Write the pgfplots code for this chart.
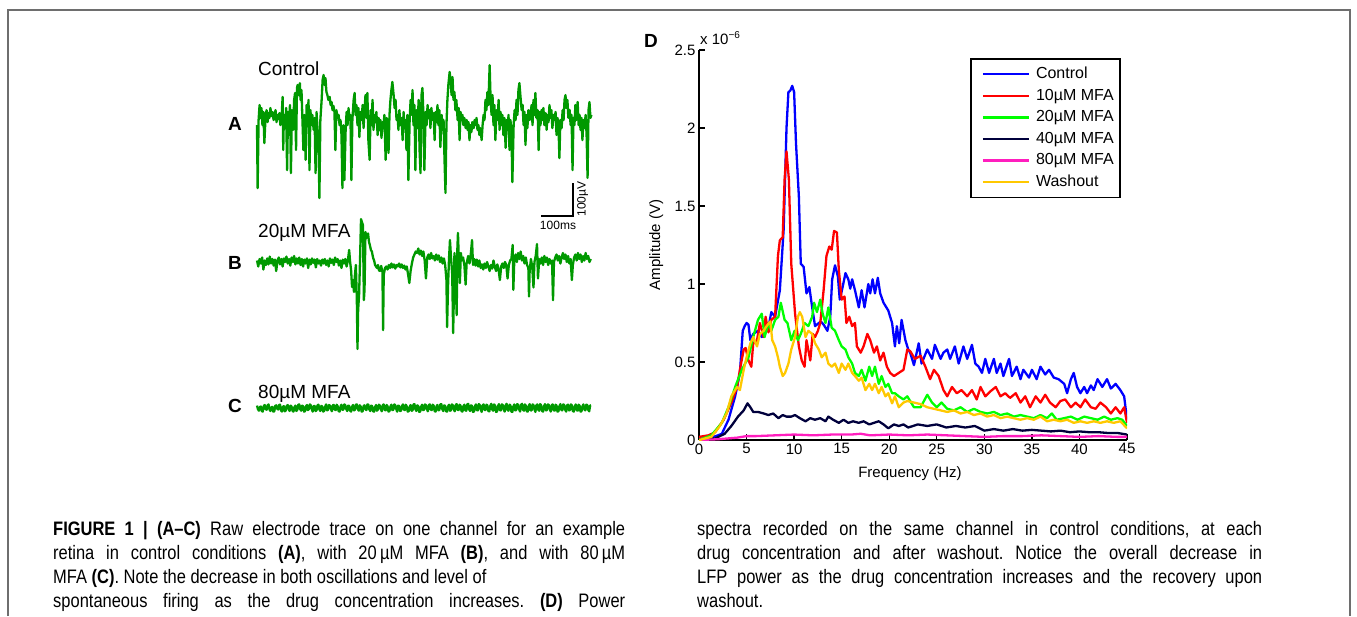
\documentclass[border=0pt]{standalone}
\usepackage{pgfplots}
\pgfplotsset{compat=1.18}
\usepackage{fontspec}
\setmainfont{Liberation Sans}
\newfontfamily\capfont[FakeStretch=0.845]{Liberation Sans}

\definecolor{tracegreen}{RGB}{0,153,0}
\definecolor{cBlue}{RGB}{0,0,255}
\definecolor{cRed}{RGB}{255,0,0}
\definecolor{cGreen}{RGB}{0,255,0}
\definecolor{cNavy}{RGB}{0,0,60}
\definecolor{cPink}{RGB}{255,30,190}
\definecolor{cYellow}{RGB}{255,200,0}
\definecolor{framegray}{RGB}{110,110,110}

\pgfplotsset{
  trace/.style={hide axis, x=0.32pt, y=0.3pt, xmin=0, xmax=1047,
    clip=false, anchor=south west},
  tr/.style={tracegreen, line width=2.3pt, line join=round, no marks},
}

\begin{document}
\begin{tikzpicture}
\path[use as bounding box] (0pt,0pt) rectangle (1357pt,-616pt);
\draw[framegray, line width=2pt] (8pt,-616pt) -- (8pt,-10pt) -- (1350pt,-10pt) -- (1350pt,-616pt);

% ---------- A: control ----------
\begin{axis}[trace, ymin=-260, ymax=190, at={(257pt,-198pt)}]
\addplot[tr] coordinates {
(0,-17)(2,-227)(5,0)(8,50)(11,7)(14,40)(17,-17)(20,27)(23,-77)(27,17)(30,33)(33,-7)(36,23)(39,7)(42,40)(45,13)(48,27)(52,0)(55,20)(58,33)(61,-7)(64,17)(67,3)(70,23)(73,-17)(77,10)(80,77)(82,-100)(84,17)(88,-27)(91,40)(94,-167)(97,27)(100,-17)(103,50)(106,-177)(109,33)(113,-33)(116,67)(119,90)(122,-100)(125,107)(127,117)(131,83)(134,123)(136,67)(139,100)(142,0)(145,-100)(148,17)(152,-133)(155,50)(158,0)(161,67)(164,-167)(167,33)(170,-17)(173,17)(177,-33)(180,7)(183,-177)(186,27)(189,-27)(192,-67)(195,-260)(198,0)(202,67)(205,133)(208,150)(211,117)(214,140)(217,93)(220,83)(223,67)(227,77)(230,50)(233,60)(236,33)(239,47)(242,27)(245,-100)(248,33)(252,7)(255,17)(258,-17)(261,0)(264,-50)(267,-227)(270,-17)(273,-200)(277,-33)(280,27)(283,-17)(286,40)(289,0)(292,17)(295,-200)(298,0)(302,67)(305,90)(308,17)(311,50)(314,-17)(317,40)(320,-57)(323,27)(327,0)(330,50)(333,-27)(336,33)(339,83)(342,7)(345,90)(348,-67)(352,-133)(355,33)(358,-17)(361,67)(364,-33)(367,17)(370,-7)(373,27)(377,-50)(380,7)(383,-33)(386,0)(389,-60)(392,-7)(395,-27)(398,17)(402,-133)(405,7)(408,-17)(411,-110)(414,17)(417,67)(420,100)(423,127)(427,83)(430,40)(433,67)(436,0)(439,17)(442,-33)(445,33)(448,-17)(452,7)(455,-67)(458,27)(461,-27)(464,0)(467,-100)(470,17)(473,-200)(477,0)(480,67)(483,17)(486,100)(489,-17)(492,50)(495,-167)(498,33)(502,-27)(505,67)(508,-100)(511,-177)(514,83)(517,107)(520,17)(523,-167)(527,27)(530,-17)(533,50)(536,7)(539,33)(542,-27)(545,40)(548,0)(552,23)(555,-67)(558,27)(561,-7)(564,50)(567,-17)(570,33)(573,-90)(577,17)(580,-33)(583,0)(586,-133)(589,-243)(592,-17)(595,67)(598,117)(602,160)(605,133)(608,83)(611,143)(614,67)(617,93)(620,33)(623,67)(627,0)(630,40)(633,-67)(636,27)(639,0)(642,17)(645,-17)(648,7)(652,-27)(655,0)(658,-33)(661,-7)(664,-67)(667,-17)(670,-40)(673,-7)(677,-27)(680,0)(683,-17)(686,7)(689,-33)(692,-17)(695,-50)(698,-27)(702,-67)(705,-17)(708,17)(711,0)(714,67)(717,33)(720,93)(723,50)(727,183)(730,67)(733,17)(736,83)(739,-17)(742,50)(745,-67)(748,33)(752,0)(755,67)(758,-33)(761,27)(764,-17)(767,17)(770,-50)(773,7)(777,-93)(780,0)(783,-33)(786,17)(789,-100)(792,0)(795,-33)(798,-207)(802,-17)(805,33)(808,0)(811,67)(814,17)(817,100)(820,123)(823,83)(827,33)(830,50)(833,-17)(836,27)(839,-83)(842,17)(845,-27)(848,33)(852,0)(855,17)(858,50)(861,-17)(864,67)(867,17)(870,90)(873,7)(877,33)(880,-100)(883,27)(886,-17)(889,33)(892,0)(895,40)(898,-17)(902,23)(905,-33)(908,17)(911,-7)(914,50)(917,7)(920,33)(923,-27)(927,17)(930,0)(933,27)(936,-50)(939,7)(942,-17)(945,-127)(948,0)(952,-27)(955,33)(958,0)(961,67)(964,83)(967,40)(970,67)(973,7)(977,33)(980,-17)(983,17)(986,-167)(989,7)(992,-17)(995,50)(998,0)(1002,60)(1005,-17)(1008,17)(1011,-33)(1014,7)(1017,-67)(1020,0)(1023,-27)(1027,17)(1030,-50)(1033,-193)(1036,33)(1039,60)(1042,7)(1045,17)};
\end{axis}

% ---------- B: 20 uM MFA ----------
\begin{axis}[trace, ymin=-300, ymax=150, at={(257pt,-352pt)}]
\addplot[tr] coordinates {
(0,5)(4,-15)(8,10)(12,-5)(16,15)(20,-25)(24,5)(28,-10)(32,12)(36,-8)(40,18)(44,-5)(48,10)(52,-12)(56,8)(60,-30)(64,5)(68,15)(72,-8)(76,10)(80,-15)(84,12)(88,0)(92,18)(96,-5)(100,10)(104,-12)(108,15)(112,0)(116,20)(120,-8)(124,12)(128,-5)(132,15)(136,-10)(140,10)(144,-15)(148,8)(152,-5)(156,12)(160,-20)(164,8)(168,-8)(172,12)(176,-3)(180,8)(184,-18)(188,10)(192,-5)(196,5)(200,-12)(204,8)(208,-5)(212,10)(216,-10)(220,5)(224,-15)(228,12)(232,-3)(236,8)(240,-10)(244,15)(248,0)(252,10)(256,-12)(260,5)(264,-20)(268,8)(272,-5)(276,10)(280,-15)(284,5)(288,40)(291,0)(294,-27)(297,-83)(300,-60)(303,-100)(306,-43)(309,-10)(312,-127)(314,-290)(316,-160)(319,-110)(322,7)(325,143)(328,133)(331,123)(334,-127)(336,-93)(339,100)(342,80)(344,90)(347,95)(350,67)(353,55)(356,40)(359,35)(363,13)(366,5)(369,-10)(372,-15)(375,-20)(378,-10)(381,-27)(384,-30)(388,-13)(392,-33)(394,-227)(396,-43)(400,-20)(404,-15)(408,-25)(412,-10)(416,-20)(420,-5)(424,-18)(428,-8)(432,-22)(436,-10)(440,-15)(444,-5)(448,-18)(452,-8)(456,-20)(460,-12)(464,-25)(468,-15)(472,-40)(476,-70)(480,-30)(484,-5)(488,15)(492,25)(496,35)(500,30)(504,45)(508,25)(512,38)(516,20)(520,35)(524,5)(528,-55)(532,15)(536,25)(540,10)(544,30)(548,12)(552,20)(556,5)(560,25)(564,8)(568,22)(572,0)(576,15)(580,-5)(584,12)(588,-10)(592,-60)(594,-217)(597,-80)(600,10)(603,73)(606,20)(610,-40)(613,-237)(615,-120)(617,30)(620,-20)(624,-177)(626,40)(628,97)(631,0)(634,-70)(637,30)(640,5)(644,15)(648,-10)(652,-75)(655,-5)(660,20)(664,-5)(668,25)(672,73)(675,-10)(679,10)(683,-12)(687,8)(691,-15)(695,5)(699,-20)(703,-8)(707,-25)(711,-5)(715,-20)(719,0)(723,-15)(727,-30)(731,-10)(735,-22)(739,5)(743,-15)(747,-30)(751,-8)(755,-25)(759,-60)(763,-15)(767,-5)(771,-20)(775,0)(779,-10)(783,-55)(787,-10)(791,5)(795,10)(799,57)(801,-93)(804,5)(808,25)(812,0)(816,30)(820,10)(824,35)(828,5)(832,20)(836,-5)(840,15)(844,-10)(848,-20)(850,-115)(852,-30)(856,10)(860,-15)(864,-85)(867,0)(871,20)(875,60)(878,-55)(882,10)(886,-5)(890,15)(894,-10)(898,20)(902,0)(906,15)(910,-10)(914,10)(918,-5)(922,5)(925,-127)(928,0)(932,15)(936,25)(940,5)(944,20)(948,-5)(952,15)(956,30)(960,10)(964,25)(968,0)(972,20)(976,-5)(980,10)(984,-60)(987,-10)(991,15)(995,25)(999,5)(1003,30)(1007,10)(1011,25)(1015,0)(1019,20)(1023,5)(1027,30)(1031,10)(1035,20)(1039,0)(1043,10)};
\end{axis}

% ---------- C: 80 uM MFA ----------
\begin{axis}[trace, ymin=-20, ymax=20, at={(257pt,-414pt)}]
\addplot[tr] coordinates {
(0,8)(3,-4)(6,-9)(9,3)(12,5)(15,-10)(18,-12)(21,6)(24,10)(27,-3)(30,-6)(33,9)(36,12)(39,-5)(42,-10)(45,2)(48,4)(51,-12)(54,-11)(57,7)(60,9)(63,-2)(66,-5)(69,10)(72,11)(75,-8)(78,-12)(81,4)(84,6)(87,-11)(90,-8)(93,7)(96,10)(99,-4)(102,-10)(105,8)(108,5)(111,-9)(114,-12)(117,3)(120,8)(123,-10)(126,-6)(129,11)(132,12)(135,-4)(138,-9)(141,8)(144,6)(147,-12)(150,-11)(153,5)(156,10)(159,-7)(162,-4)(165,12)(168,9)(171,-3)(174,-12)(177,6)(180,7)(183,-10)(186,-8)(189,9)(192,11)(195,-5)(198,-10)(201,7)(204,5)(207,-12)(210,-9)(213,4)(216,12)(219,-8)(222,-6)(225,10)(228,8)(231,-3)(234,-11)(237,9)(240,10)(243,-5)(246,-7)(249,11)(252,6)(255,-10)(258,-12)(261,5)(264,11)(267,-6)(270,-5)(273,12)(276,9)(279,-4)(282,-10)(285,8)(288,7)(291,-9)(294,-12)(297,4)(300,10)(303,-8)(306,-6)(309,11)(312,12)(315,-3)(318,-9)(321,9)(324,5)(327,-12)(330,-11)(333,6)(336,9)(339,-4)(342,-7)(345,12)(348,11)(351,-5)(354,-10)(357,8)(360,6)(363,-11)(366,-12)(369,3)(372,10)(375,-9)(378,-5)(381,11)(384,8)(387,-4)(390,-11)(393,9)(396,12)(399,-6)(402,-8)(405,10)(408,6)(411,-12)(414,-10)(417,5)(420,11)(423,-7)(426,-6)(429,12)(432,9)(435,-3)(438,-12)(441,8)(444,7)(447,-10)(450,-9)(453,6)(456,12)(459,-5)(462,-7)(465,11)(468,5)(471,-12)(474,-11)(477,4)(480,10)(483,-9)(486,-8)(489,12)(492,13)(495,-4)(498,-10)(501,9)(504,6)(507,-13)(510,-12)(513,5)(516,11)(519,-7)(522,-6)(525,12)(528,9)(531,-4)(534,-11)(537,10)(540,12)(543,-5)(546,-7)(549,11)(552,8)(555,-10)(558,-12)(561,6)(564,10)(567,-8)(570,-6)(573,12)(576,13)(579,-4)(582,-10)(585,9)(588,7)(591,-11)(594,-12)(597,5)(600,11)(603,-9)(606,-8)(609,12)(612,9)(615,-5)(618,-11)(621,10)(624,13)(627,-6)(630,-7)(633,11)(636,8)(639,-10)(642,-12)(645,6)(648,11)(651,-8)(654,-9)(657,12)(660,14)(663,-5)(666,-10)(669,9)(672,7)(675,-13)(678,-12)(681,5)(684,12)(687,-7)(690,-8)(693,13)(696,10)(699,-4)(702,-13)(705,9)(708,12)(711,-6)(714,-7)(717,11)(720,9)(723,-10)(726,-11)(729,7)(732,14)(735,-5)(738,-9)(741,12)(744,8)(747,-13)(750,-12)(753,6)(756,13)(759,-7)(762,-8)(765,12)(768,10)(771,-5)(774,-12)(777,9)(780,14)(783,-6)(786,-9)(789,11)(792,9)(795,-12)(798,-13)(801,5)(804,12)(807,-8)(810,-7)(813,13)(816,11)(819,-4)(822,-12)(825,10)(828,14)(831,-6)(834,-9)(837,12)(840,8)(843,-11)(846,-12)(849,7)(852,13)(855,-8)(858,-8)(861,12)(864,10)(867,-5)(870,-13)(873,9)(876,12)(879,-6)(882,-9)(885,13)(888,9)(891,-10)(894,-12)(897,6)(900,13)(903,-8)(906,-7)(909,12)(912,10)(915,-4)(918,-12)(921,9)(924,12)(927,-7)(930,-9)(933,11)(936,8)(939,-12)(942,-11)(945,6)(948,13)(951,-6)(954,-8)(957,12)(960,10)(963,-5)(966,-12)(969,9)(972,11)(975,-8)(978,-7)(981,12)(984,9)(987,-10)(990,-12)(993,5)(996,12)(999,-7)(1002,-9)(1005,11)(1008,8)(1011,-12)(1014,-11)(1017,6)(1020,12)(1023,-5)(1026,-8)(1029,11)(1032,10)(1035,-6)(1038,-11)(1041,8)(1044,9)};
\end{axis}

% trace labels and scale bar
\begin{scope}[font=\fontsize{19}{22}\selectfont]
\node[anchor=base west, inner sep=0pt] at (258pt,-75pt) {Control};
\node[anchor=base west, inner sep=0pt] at (258pt,-237pt) {20µM MFA};
\node[anchor=base west, inner sep=0pt] at (258pt,-398pt) {80µM MFA};
\node[anchor=base west, inner sep=0pt, font=\fontsize{19}{22}\selectfont\bfseries] at (228pt,-130pt) {A};
\node[anchor=base west, inner sep=0pt, font=\fontsize{19}{22}\selectfont\bfseries] at (228pt,-269pt) {B};
\node[anchor=base west, inner sep=0pt, font=\fontsize{19}{22}\selectfont\bfseries] at (228pt,-412pt) {C};
\node[anchor=base west, inner sep=0pt, font=\fontsize{19}{22}\selectfont\bfseries] at (644pt,-47pt) {D};
\end{scope}
\draw[black, line width=2pt] (573pt,-183pt) -- (573pt,-216pt) -- (541pt,-216pt);
\node[anchor=base, inner sep=0pt, font=\fontsize{12}{14}\selectfont] at (558pt,-229pt) {100ms};
\node[rotate=90, anchor=north, inner sep=0pt, font=\fontsize{12}{14}\selectfont] at (577pt,-199pt) {100µV};

% ---------- D: power spectra ----------
\begin{axis}[
  at={(699pt,-440pt)}, anchor=south west,
  width=428pt, height=390pt, scale only axis,
  xmin=0, xmax=45, ymin=0, ymax=2.5,
  axis lines*=left, axis line style={-, line width=1.6pt},
  tick align=inside, major tick length=6pt,
  tick style={black, line width=1.3pt},
  xtick={0,5,...,45}, ytick={0,0.5,1,1.5,2,2.5},
  yticklabels={0,0.5,1,1.5,2,2.5},
  tick label style={font=\fontsize{15}{18}\selectfont},
  /pgf/number format/assume math mode=true,
  xlabel={Frequency (Hz)}, ylabel={Amplitude (V)},
  every axis x label/.style={at={(axis description cs:0.493,-0.087)}, anchor=center,
    font=\fontsize{15}{18}\selectfont},
  every axis y label/.style={at={(axis description cs:-0.1,0.5)}, rotate=90, anchor=center,
    font=\fontsize{15}{18}\selectfont},
  legend cell align=left,
  legend image code/.code={\path (-6pt,0pt) (51pt,0pt); \draw[#1, line width=2.3pt] (0pt,0pt) -- (46pt,0pt);},
  legend style={at={(0.633,0.979)}, anchor=north west, draw=black, line width=1.6pt,
    fill=white, inner xsep=5pt, inner ysep=6.5pt, row sep=4.1pt,
    font=\fontsize{16}{19}\selectfont,
    nodes={inner sep=1pt, text height=12pt, text depth=3.5pt}},
  every axis plot/.append style={line width=2.3pt, no marks, line join=round},
]
\addplot[cBlue] coordinates {
(0,0.01)(1,0.01)(2,0.03)(2.4,0.04)(3.1,0.13)(3.8,0.28)(4.3,0.43)(4.6,0.70)(4.8,0.73)(5.0,0.75)(5.2,0.74)(5.4,0.64)(5.7,0.68)(6.2,0.70)(6.6,0.66)(6.9,0.69)(7.3,0.72)(7.6,0.82)(8.0,0.79)(8.5,0.96)(8.9,1.35)(9.2,2.0)(9.4,2.23)(9.6,2.24)(9.8,2.27)(10.0,2.23)(10.2,1.9)(10.5,1.56)(10.7,1.13)(11.0,1.11)(11.3,0.94)(11.6,0.98)(11.9,0.85)(12.2,0.73)(12.4,0.74)(12.8,0.76)(13.1,0.74)(13.5,0.70)(13.8,0.79)(14.0,1.03)(14.3,1.12)(14.6,1.05)(14.8,0.90)(15.1,0.98)(15.4,1.07)(15.7,1.03)(15.9,0.97)(16.1,1.03)(16.4,0.96)(16.8,0.85)(17.1,0.96)(17.4,0.85)(17.8,1.0)(18.0,0.94)(18.25,1.03)(18.5,0.94)(18.8,1.04)(19.05,0.94)(19.4,0.88)(19.9,0.83)(20.3,0.75)(20.6,0.60)(20.8,0.73)(21.05,0.62)(21.3,0.77)(21.7,0.64)(22.0,0.58)(22.2,0.56)(22.6,0.48)(23.1,0.62)(23.4,0.49)(24.0,0.58)(24.5,0.52)(24.8,0.61)(25.4,0.52)(25.7,0.56)(26.1,0.58)(26.4,0.52)(26.9,0.60)(27.3,0.49)(27.8,0.60)(28.2,0.52)(28.7,0.61)(29.05,0.49)(29.4,0.47)(29.75,0.43)(30.1,0.52)(30.5,0.43)(31.0,0.52)(31.3,0.43)(31.7,0.49)(32.0,0.41)(32.6,0.52)(32.9,0.41)(33.4,0.47)(33.8,0.39)(34.1,0.45)(34.7,0.40)(35.0,0.45)(35.5,0.39)(35.9,0.47)(36.4,0.42)(36.8,0.45)(37.3,0.40)(37.8,0.39)(38.4,0.36)(38.7,0.30)(39.1,0.39)(39.4,0.43)(39.75,0.34)(40.1,0.30)(40.5,0.34)(40.8,0.30)(41.2,0.35)(41.5,0.32)(41.9,0.39)(42.4,0.34)(42.9,0.39)(43.3,0.33)(43.8,0.36)(44.3,0.32)(44.7,0.28)(45,0.13)};
\addlegendentry{Control}
\addplot[cRed] coordinates {
(0,0.02)(1,0.03)(1.7,0.05)(2.6,0.13)(3.4,0.24)(4.0,0.34)(4.3,0.45)(4.7,0.58)(4.9,0.59)(5.2,0.51)(5.5,0.47)(5.7,0.62)(6.1,0.64)(6.4,0.75)(6.8,0.66)(7.0,0.79)(7.3,0.69)(7.6,0.77)(8.0,0.79)(8.3,1.18)(8.5,1.28)(8.8,1.30)(9.0,1.67)(9.2,1.85)(9.45,1.67)(9.7,1.13)(10.1,0.81)(10.5,0.60)(10.8,0.51)(11.1,0.47)(11.3,0.64)(11.7,0.51)(11.95,0.68)(12.2,0.66)(12.5,0.70)(12.75,0.75)(13.1,0.96)(13.4,1.18)(13.7,1.24)(13.95,1.22)(14.2,1.34)(14.5,1.33)(14.7,1.09)(15.0,0.90)(15.3,0.92)(15.5,0.75)(15.8,0.79)(16.1,0.73)(16.4,0.75)(16.6,0.60)(17.0,0.56)(17.3,0.60)(17.7,0.68)(18.0,0.64)(18.4,0.56)(18.7,0.60)(19.05,0.51)(19.4,0.56)(19.75,0.47)(20.1,0.43)(20.5,0.41)(21.0,0.43)(21.5,0.45)(21.9,0.58)(22.2,0.57)(22.7,0.52)(23.3,0.54)(23.8,0.47)(24.3,0.39)(24.7,0.45)(25.2,0.41)(25.7,0.32)(26.1,0.28)(26.6,0.34)(27.1,0.30)(27.6,0.32)(28.2,0.28)(28.7,0.32)(29.2,0.26)(29.6,0.34)(30.1,0.28)(30.6,0.31)(31.2,0.34)(31.7,0.28)(32.2,0.30)(32.7,0.27)(33.3,0.30)(33.8,0.24)(34.3,0.28)(34.8,0.21)(35.4,0.28)(35.9,0.24)(36.4,0.29)(36.9,0.24)(37.5,0.21)(38.0,0.25)(38.5,0.26)(39.1,0.21)(39.6,0.24)(40.1,0.21)(40.6,0.26)(41.2,0.21)(41.7,0.20)(42.2,0.24)(42.8,0.21)(43.3,0.17)(43.8,0.21)(44.3,0.17)(44.7,0.21)(45,0.11)};
\addlegendentry{10µM MFA}
\addplot[cGreen] coordinates {
(0,0)(1.3,0.03)(2.4,0.11)(3.1,0.21)(3.8,0.34)(4.5,0.45)(5.2,0.53)(5.7,0.66)(6.2,0.77)(6.6,0.81)(6.9,0.66)(7.3,0.75)(7.6,0.70)(8.0,0.77)(8.35,0.79)(8.6,0.88)(9.0,0.77)(9.3,0.75)(9.7,0.64)(10.05,0.70)(10.4,0.64)(10.7,0.68)(11.1,0.75)(11.5,0.73)(11.9,0.79)(12.1,0.88)(12.4,0.82)(12.75,0.90)(13.0,0.81)(13.3,0.75)(13.6,0.85)(13.95,0.72)(14.3,0.70)(14.7,0.64)(15.0,0.60)(15.4,0.58)(15.7,0.53)(16.1,0.49)(16.4,0.43)(16.8,0.41)(17.1,0.45)(17.5,0.38)(17.9,0.47)(18.2,0.41)(18.5,0.47)(18.9,0.36)(19.2,0.41)(19.6,0.34)(19.9,0.36)(20.3,0.30)(20.6,0.30)(21.0,0.28)(21.5,0.26)(21.9,0.28)(22.6,0.21)(23.3,0.21)(24.0,0.29)(24.5,0.24)(25.0,0.21)(25.5,0.24)(26.1,0.20)(26.8,0.19)(27.5,0.21)(28.2,0.18)(28.9,0.20)(29.6,0.18)(30.3,0.17)(31.0,0.18)(31.7,0.16)(32.4,0.17)(33.1,0.15)(33.8,0.16)(34.5,0.15)(35.2,0.14)(35.9,0.16)(36.6,0.14)(37.1,0.17)(37.6,0.13)(38.4,0.14)(39.1,0.15)(39.8,0.13)(40.5,0.15)(41.2,0.14)(41.9,0.13)(42.6,0.15)(43.3,0.13)(44.0,0.14)(44.5,0.13)(45,0.09)};
\addlegendentry{20µM MFA}
\addplot[cNavy] coordinates {
(0,0)(1.7,0.01)(2.7,0.04)(3.4,0.09)(4.1,0.15)(4.7,0.19)(5.1,0.235)(5.4,0.21)(5.7,0.18)(6.2,0.18)(6.8,0.17)(7.3,0.16)(7.8,0.17)(8.35,0.14)(8.8,0.16)(9.2,0.15)(9.7,0.15)(10.1,0.16)(10.6,0.14)(11.2,0.12)(11.7,0.14)(12.2,0.13)(12.75,0.14)(13.3,0.12)(13.6,0.15)(14.1,0.13)(14.7,0.11)(15.2,0.13)(15.7,0.11)(16.2,0.12)(16.8,0.11)(17.3,0.12)(17.9,0.10)(18.4,0.11)(18.9,0.12)(19.4,0.10)(19.9,0.075)(20.5,0.10)(21.0,0.09)(21.5,0.10)(22,0.08)(23,0.10)(24,0.09)(25,0.10)(26,0.08)(27,0.09)(28,0.08)(29,0.09)(30,0.06)(31,0.07)(32,0.06)(33,0.07)(34,0.06)(35,0.065)(36,0.06)(37,0.055)(38,0.06)(39,0.05)(40,0.055)(41,0.05)(42,0.05)(43,0.045)(44,0.045)(45,0.035)};
\addlegendentry{40µM MFA}
\addplot[cPink] coordinates {
(0,0)(2,0.005)(4,0.015)(5,0.025)(6,0.025)(8,0.03)(10,0.035)(12,0.03)(14,0.035)(16,0.035)(17,0.04)(18,0.03)(20,0.035)(22,0.03)(24,0.035)(26,0.03)(28,0.025)(30,0.02)(32,0.025)(34,0.025)(36,0.03)(38,0.025)(40,0.02)(42,0.025)(44,0.02)(45,0.02)};
\addlegendentry{80µM MFA}
\addplot[cYellow] coordinates {
(0,0)(1.3,0.02)(2.2,0.09)(2.9,0.17)(3.4,0.28)(4.0,0.34)(4.3,0.32)(4.7,0.45)(5.0,0.53)(5.4,0.62)(5.7,0.66)(6.1,0.60)(6.4,0.68)(6.8,0.70)(7.1,0.73)(7.5,0.76)(7.7,0.64)(8.0,0.60)(8.3,0.53)(8.5,0.47)(8.8,0.41)(9.05,0.43)(9.4,0.49)(9.7,0.58)(10.1,0.66)(10.4,0.79)(10.6,0.82)(10.85,0.79)(11.2,0.66)(11.5,0.70)(11.9,0.68)(12.2,0.62)(12.6,0.58)(12.9,0.53)(13.3,0.56)(13.6,0.49)(13.95,0.47)(14.3,0.49)(14.7,0.43)(15.0,0.49)(15.4,0.45)(15.7,0.49)(16.1,0.43)(16.4,0.41)(16.8,0.38)(17.1,0.40)(17.5,0.32)(17.9,0.36)(18.2,0.32)(18.5,0.36)(18.9,0.30)(19.2,0.34)(19.6,0.28)(19.9,0.30)(20.3,0.235)(20.6,0.28)(21.0,0.21)(21.5,0.24)(21.9,0.25)(22.6,0.24)(23.3,0.23)(24.0,0.21)(24.7,0.20)(25.4,0.19)(26.1,0.18)(26.8,0.19)(27.5,0.17)(28.2,0.18)(28.9,0.16)(29.6,0.17)(30.3,0.15)(31.0,0.16)(31.7,0.14)(32.4,0.15)(33.1,0.14)(33.8,0.13)(34.5,0.14)(35.2,0.13)(35.9,0.15)(36.6,0.12)(37.3,0.13)(38.0,0.12)(38.7,0.13)(39.4,0.11)(40.1,0.12)(40.8,0.11)(41.5,0.12)(42.2,0.11)(42.9,0.12)(43.6,0.11)(44.3,0.12)(45,0.075)};
\addlegendentry{Washout}
\end{axis}
\node[anchor=base west, inner sep=0pt, font=\fontsize{15}{18}\selectfont] at (700pt,-44pt) {x 10\raisebox{6pt}{\fontsize{10}{12}\selectfont −6}};

% ---------- caption ----------
\node[anchor=north west, inner sep=0pt] at (53pt,-521pt) {\begin{minipage}[t]{572pt}
  \capfont\fontsize{19.5}{24}\selectfont\frenchspacing\parfillskip=0pt
  \textbf{FIGURE 1 | (A–C)} Raw electrode trace on one channel for an example\break
  retina in control conditions \textbf{(A)}, with 20\,µM MFA \textbf{(B)}, and with 80\,µM\break
  MFA \textbf{(C)}. Note the decrease in both oscillations and level of\hfil\break
  spontaneous firing as the drug concentration increases. \textbf{(D)} Power\par
  \end{minipage}};
\node[anchor=north west, inner sep=0pt] at (697pt,-521pt) {\begin{minipage}[t]{565pt}
  \capfont\fontsize{19.5}{24}\selectfont\frenchspacing
  spectra recorded on the same channel in control conditions, at each\break
  drug concentration and after washout. Notice the overall decrease in\break
  LFP power as the drug concentration increases and the recovery upon\break
  washout.\par
  \end{minipage}};
\end{tikzpicture}
\end{document}
